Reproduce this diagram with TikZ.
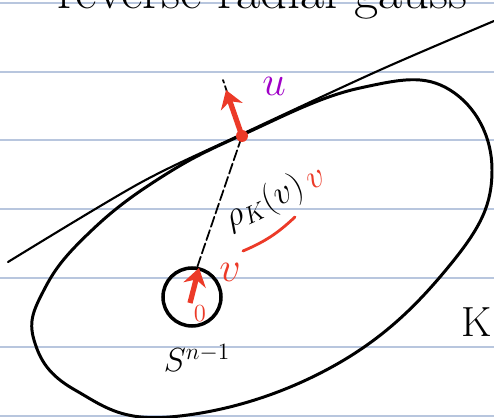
\documentclass[tikz,border=0pt]{standalone}
\usepackage{fix-cm}
\usetikzlibrary{arrows.meta}
\definecolor{rulecol}{RGB}{184,198,222}
\definecolor{inkred}{RGB}{236,58,40}
\definecolor{inkpurple}{RGB}{160,0,200}
\begin{document}
\begin{tikzpicture}[x=0.02cm, y=-0.02cm,
  rule/.style={rulecol, line width=0.8pt},
  ink/.style={black, line width=1.2pt, line cap=round, line join=round},
  dashink/.style={ink, line width=1pt, dash pattern=on 6pt off 2pt},
  redarrow/.style={inkred, line width=3pt, -{Stealth[length=10pt, width=13pt]}},
  lbl/.style={inner sep=0.5pt}]
  \useasboundingbox (0,0) rectangle (494,418);
  \clip (0,0) rectangle (494,418);
  \fill[white] (0,0) rectangle (494,418);
  % ruled paper
  \foreach \y in {3,72,140,209,278,347,416}
    \draw[rule] (0,\y) -- (494,\y);
  \node[lbl, anchor=base west, font=\fontsize{30}{32}\selectfont] (title) at (56,9) {reverse radial gauss};
  % the body K
  \draw[ink, line width=1.7pt] plot[smooth cycle, tension=0.7] coordinates {
    (242,135) (360,88) (450,90) (492,170) (450,265) (330,368) (170,417)
    (75,390) (34,340) (45,288) (90,232) (160,178)};
  % tangent line
  \draw[ink] plot[smooth] coordinates {(8,262) (140,183) (242,134) (380,70) (494,21)};
  \coordinate (P) at (242,136);
  \coordinate (U) at (226,90);
  \coordinate (N) at (223,80);
  \node[circle, draw, line width=2pt, inner sep=0pt, minimum size=1.16cm] (S) at (192,297) {};
  \coordinate (O) at (190,303);
  \coordinate (V) at (199,268);
  \draw[dashink] (S.80) -- (P);
  \draw[dashink] (P) -- (N);
  \draw[redarrow] (O) -- (V);
  \draw[redarrow] (P) -- (U);
  \fill[inkred] (P) circle (6);
  \node[lbl, inkpurple, font=\fontsize{24}{24}\selectfont] (ulab) at (274,86) {$u$};
  \node[lbl, inkred, font=\fontsize{24}{24}\selectfont] (vlab) at (230,272) {$v$};
  \node[lbl, inkred, font=\fontsize{14}{14}\selectfont] (zero) at (200,314) {$0$};
  \node[lbl, font=\fontsize{19}{19}\selectfont] (Slab) at (197,358) {$S^{n-1}$};
  \node[lbl, font=\fontsize{24}{24}\selectfont] (Klab) at (477,322) {K};
  \node[lbl, rotate=25, font=\fontsize{20}{20}\selectfont] (rholab) at (275,198) {$\rho_K(v)\,$\textcolor{inkred}{$v$}};
  \draw[inkred, line width=1.6pt, line cap=round] (243,251) to[bend right=10] (295,217);
\end{tikzpicture}
\end{document}
